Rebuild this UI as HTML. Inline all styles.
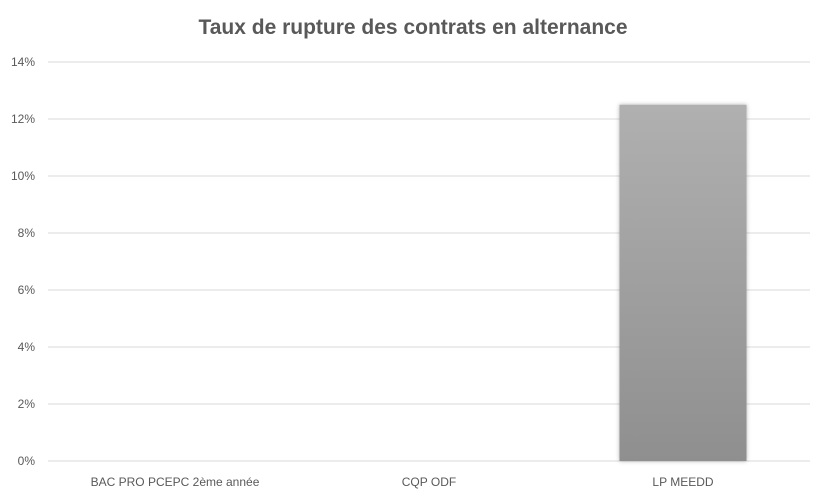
<!DOCTYPE html>
<html><head><meta charset="utf-8"><style>
body{margin:0;background:#fff;}
svg{display:block;font-family:"Liberation Sans",sans-serif;}
</style></head><body>
<svg width="827" height="501">
<defs><linearGradient id="g" x1="0" y1="0" x2="0" y2="1"><stop offset="0" stop-color="#b0b0b0"/><stop offset="1" stop-color="#8f8f8f"/></linearGradient>
<filter id="sh" x="-10%" y="-5%" width="120%" height="110%"><feDropShadow dx="0" dy="0" stdDeviation="2" flood-color="#000" flood-opacity="0.3"/></filter></defs>
<text x="413" y="34" text-anchor="middle" font-size="21" font-weight="bold" fill="#595959">Taux de rupture des contrats en alternance</text>
<g id="grid"></g><g id="bars"></g><g id="labels"></g>
</svg>
<script>
const categories=["BAC PRO  PCEPC 2ème année","CQP ODF","LP MEEDD"];
const values=[0,0,12.5];
const ticks=[0,2,4,6,8,10,12,14];
const x0=48,x1=810,y0=461,yTop=62,maxV=14;
const y=v=>y0-(v/maxV)*(y0-yTop);
const band=(x1-x0)/categories.length;
const ns="http://www.w3.org/2000/svg";
const mk=(t,a,p)=>{const e=document.createElementNS(ns,t);for(const k in a)e.setAttribute(k,a[k]);p.appendChild(e);return e;};
const G=document.getElementById('grid'),B=document.getElementById('bars'),L=document.getElementById('labels');
ticks.forEach(t=>{
 const l=mk('line',{x1:x0,x2:x1,y1:y(t),y2:y(t),stroke:'#d9d9d9','stroke-width':1},G);
 
 
 const tx=mk('text',{x:35,y:y(t)+4,'text-anchor':'end','font-size':12,fill:'#595959'},G);
 tx.textContent=t+'%';
 
 
});
categories.forEach((c,i)=>{
 const cx=x0+band*(i+0.5),w=band*0.5;
 const r=mk('rect',{x:cx-w/2,y:y(values[i]),width:w,height:Math.max(0,y0-y(values[i])),fill:'url(#g)',filter:'url(#sh)'},B);
 
 
 const t=mk('text',{x:cx,y:486,'text-anchor':'middle','font-size':12,fill:'#595959','xml:space':'preserve'},L);
 t.textContent=c;
 
 
});
</script>
</body></html>
